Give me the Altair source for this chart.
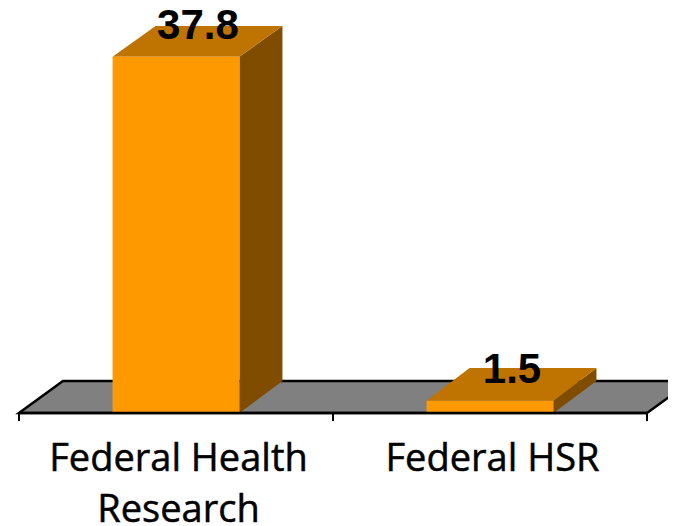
import altair as alt
import pandas as pd

categories = ["Federal Health\nResearch", "Federal HSR"]
values = [37.8, 1.5]
value_labels = ["37.8", "1.5"]
positions = [0.5, 1.5]
top_depths = [3.24, 3.45]

BAR_W = 0.404
DX = 0.137
FLOOR_DX = 0.14
FLOOR_DY = 3.377
BASE = 0.2
XMIN, XMAX = -0.035, 2.0669
YMIN, YMAX = -11.72, 42.94

x_s = alt.Scale(domain=[XMIN, XMAX], nice=False, zero=False)
y_s = alt.Scale(domain=[YMIN, YMAX], nice=False, zero=False)
X = alt.X("x:Q", scale=x_s, axis=None)
Y = alt.Y("y:Q", scale=y_s, axis=None)


def skew(x0, x1, dx, lo, dy, key):
    return [
        {"x": x0, "y": lo, "y2": lo, "k": key},
        {"x": x0 + dx, "y": lo, "y2": lo + dy, "k": key},
        {"x": x1, "y": lo, "y2": lo + dy, "k": key},
        {"x": x1 + dx, "y": lo + dy, "y2": lo + dy, "k": key},
    ]


front, top, side = [], [], []
for i, (p, v, d) in enumerate(zip(positions, values, top_depths)):
    a, b = p - BAR_W / 2, p + BAR_W / 2
    front.append({"x": a, "x2": b, "y": v, "y2": BASE})
    top += skew(a, b, DX, v, d, i)
    side += [
        {"x": b, "y": BASE, "y2": v, "k": i},
        {"x": b + DX, "y": BASE + FLOOR_DY, "y2": v + d, "k": i},
    ]

floor = skew(0, 2, FLOOR_DX, BASE, FLOOR_DY, 0)
outline = [
    {"x": 2, "y": BASE, "o": 0},
    {"x": 0, "y": BASE, "o": 1},
    {"x": FLOOR_DX, "y": BASE + FLOOR_DY, "o": 2},
    {"x": 2 + FLOOR_DX, "y": BASE + FLOOR_DY, "o": 3},
    {"x": 2, "y": BASE, "o": 4},
]


def area(rows, color):
    return alt.Chart(pd.DataFrame(rows)).mark_area(
        color=color, clip=True, interpolate="linear"
    ).encode(X, Y, y2="y2:Q", detail="k:N")


floor_layer = area(floor, "#808080")
outline_layer = alt.Chart(pd.DataFrame(outline)).mark_line(
    color="black", strokeWidth=2.5, clip=True
).encode(X, Y, order="o:Q")
front_layer = alt.Chart(pd.DataFrame(front)).mark_rect(color="#FF9900").encode(
    X, alt.X2("x2:Q"), Y, alt.Y2("y2:Q")
)
top_layer = area(top, "#BF7300")
side_layer = area(side, "#804D00")

baseline = alt.Chart(pd.DataFrame([{"x": 0, "x2": 2, "y": BASE}])).mark_rule(
    color="black", strokeWidth=2.5
).encode(X, x2="x2:Q", y=Y)
ticks = alt.Chart(pd.DataFrame({"x": [0, 1, 2], "y": BASE, "y2": BASE - 0.85})).mark_rule(
    color="black", strokeWidth=2
).encode(X, Y, y2="y2:Q")

cat_df = pd.DataFrame({"x": positions, "y": -5.92, "t": categories})
cat_text = alt.Chart(cat_df).mark_text(
    font="Open Sans", fontSize=38, lineBreak="\n", lineHeight=51,
    baseline="alphabetic", align="center", dx=2.5, color="black",
    stroke="black", strokeWidth=0.5
).encode(X, Y, text="t:N")

val_df = pd.DataFrame({
    "x": [p + 0.07 for p in positions],
    "y": values,
    "t": value_labels,
})
val_text = alt.Chart(val_df).mark_text(
    font="Liberation Sans", fontWeight="bold", fontSize=42,
    baseline="alphabetic", align="center", dy=-18, color="black"
).encode(X, Y, text="t:N")

chart = alt.layer(
    floor_layer, outline_layer, side_layer, top_layer, front_layer,
    baseline, ticks, val_text, cat_text,
).properties(
    width=660, height=518, padding=0, autosize=alt.AutoSizeParams(type="none")
).configure_view(stroke=None)

chart.save("out.html", embed_options={"renderer": "svg", "actions": False})
